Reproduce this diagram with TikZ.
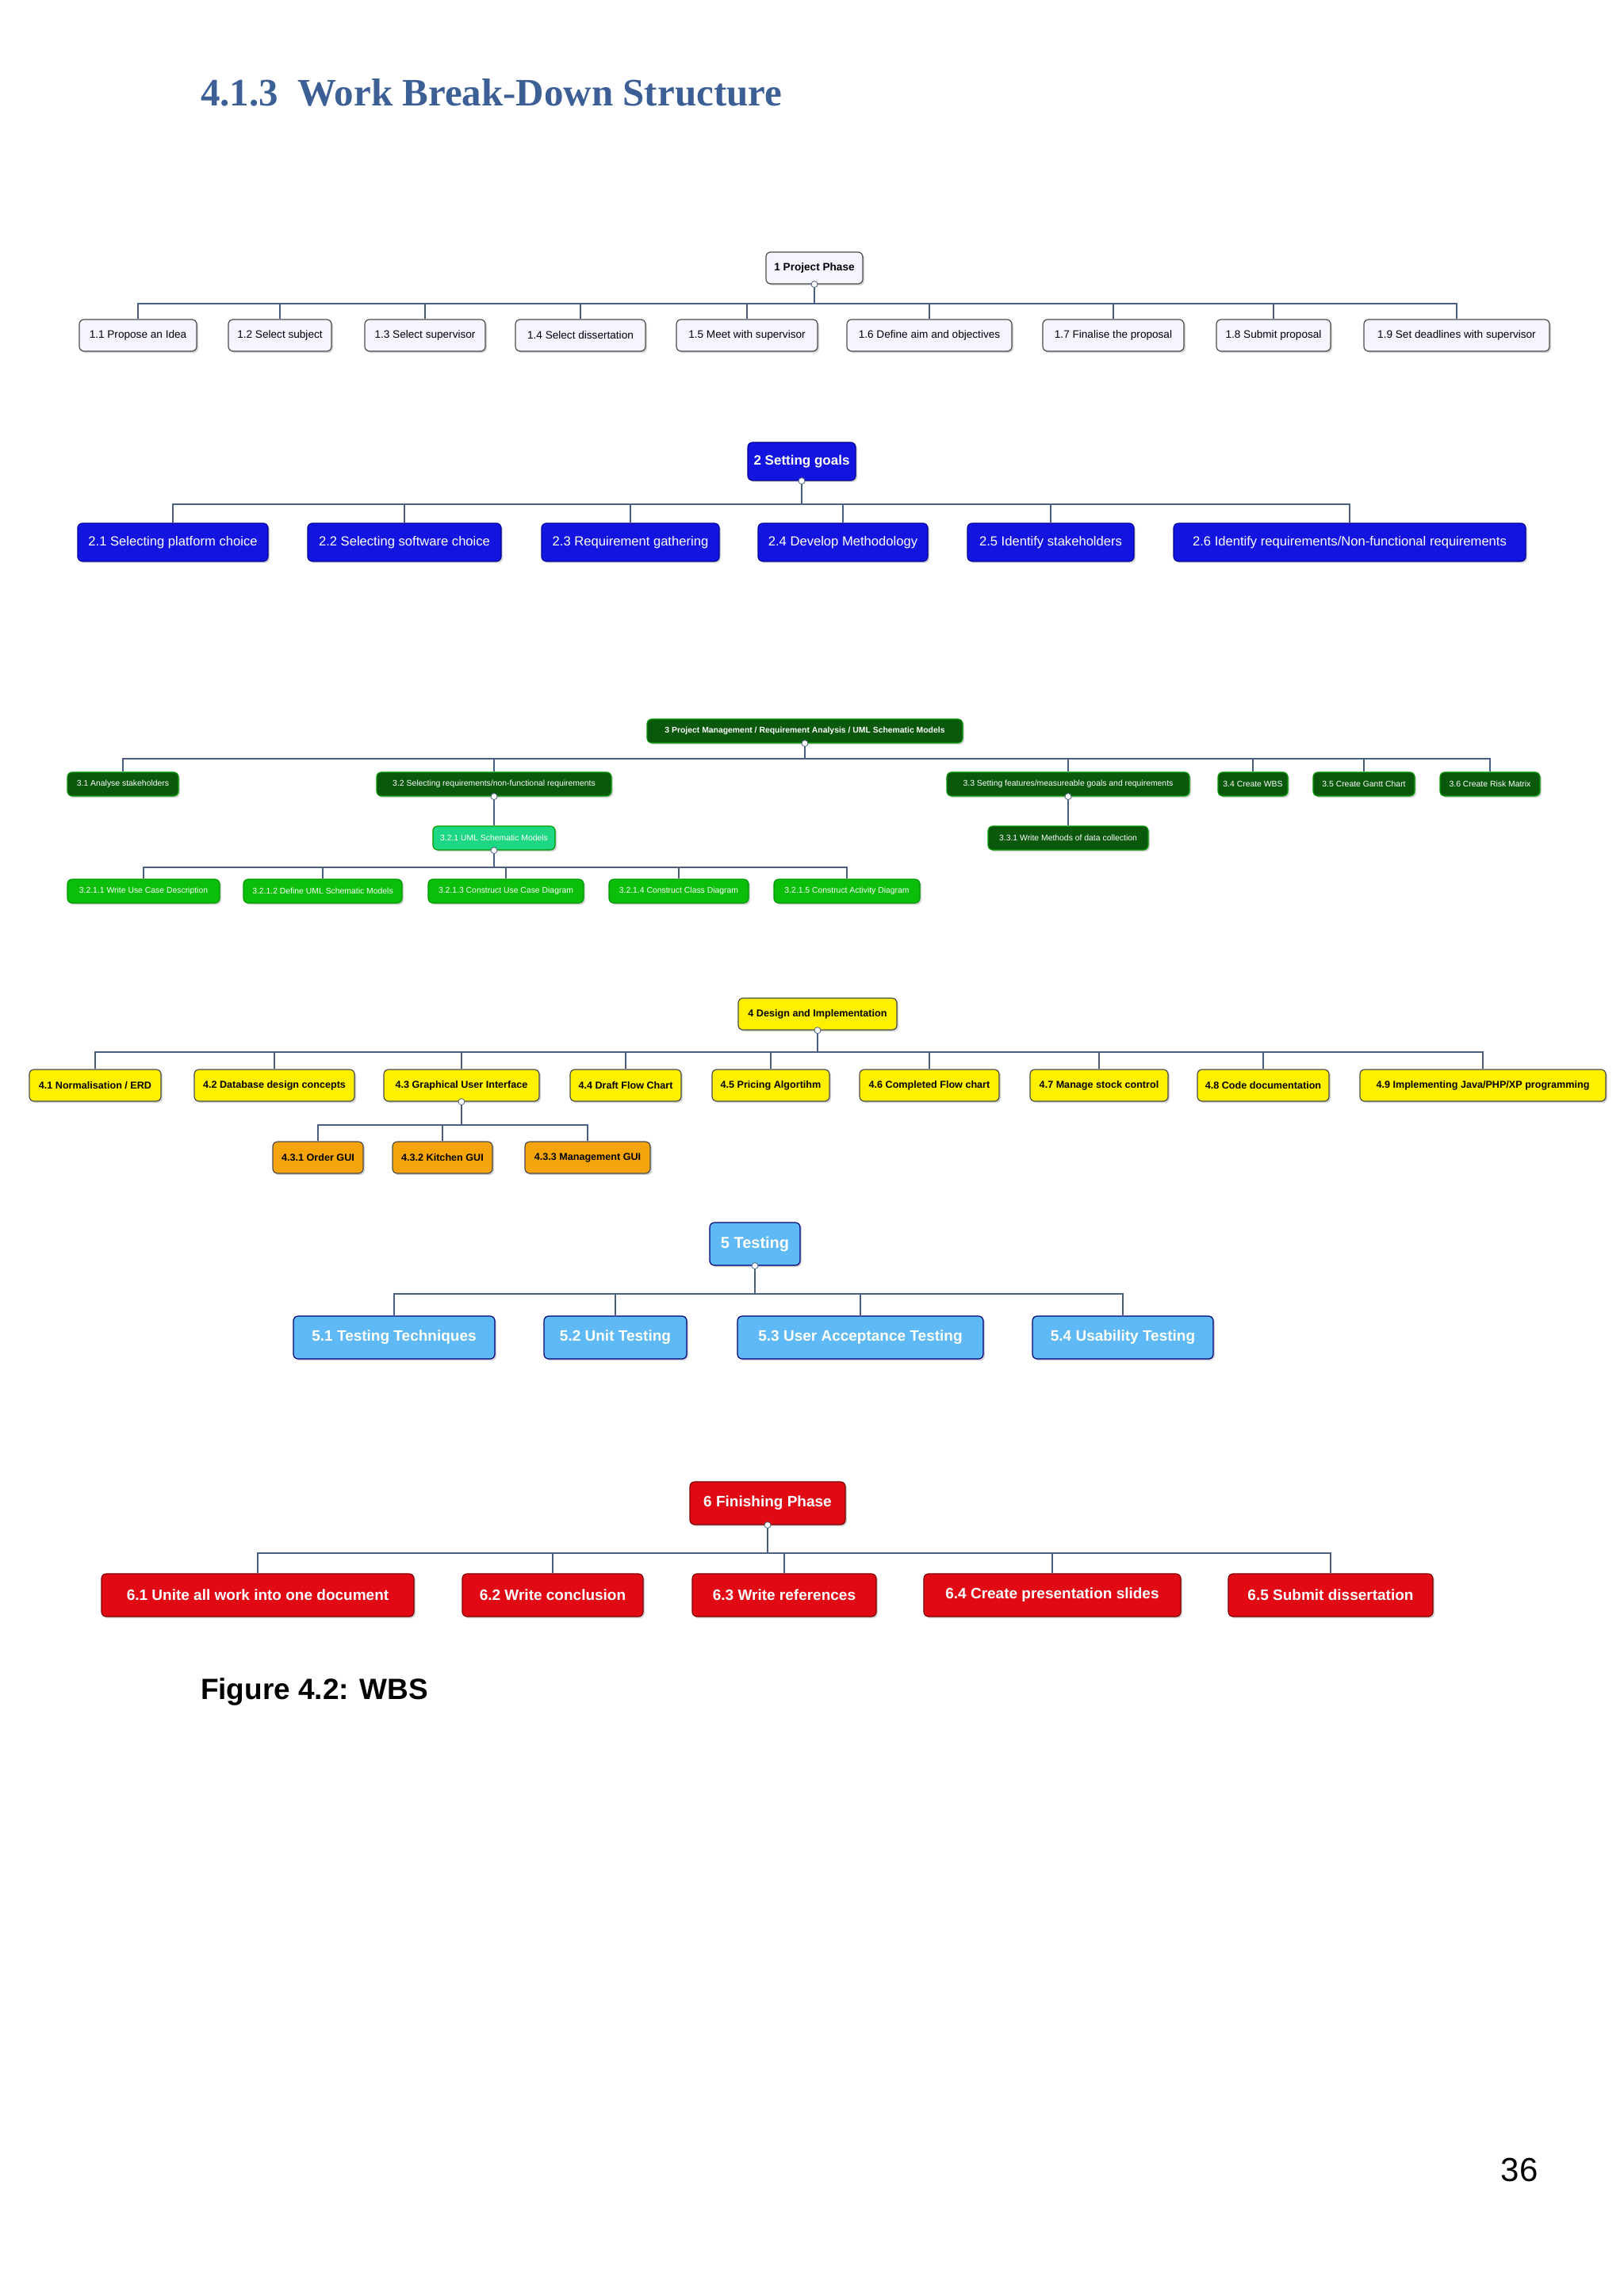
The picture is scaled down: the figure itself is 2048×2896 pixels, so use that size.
\documentclass[tikz,border=0pt]{standalone}
\usepackage{fontspec}
\setmainfont{Liberation Sans}
\newfontfamily\titlefont{Liberation Serif}
\usetikzlibrary{shadows}
\definecolor{titleblue}{HTML}{3C5F96}
\definecolor{linec}{HTML}{4A5F80}
\tikzset{
 bx/.style={rounded corners=3pt, draw=#1!60!black, line width=0.6pt, inner sep=1pt, drop shadow={opacity=0.35,shadow xshift=1pt,shadow yshift=-1pt}},
 s1/.style={bx=gray, fill=blue!4, text=black, font=\fontsize{6.8}{7}\selectfont, minimum height=20pt},
 s2/.style={bx=blue, fill={rgb,255:red,20;green,20;blue,225}, text=white, font=\fontsize{8.3}{9}\selectfont, minimum height=24pt},
 s3/.style={bx=green, fill={rgb,255:red,10;green,88;blue,12}, text=white, font=\fontsize{5.2}{5.5}\selectfont, minimum height=15pt},
 s3u/.style={s3, fill={rgb,255:red,10;green,190;blue,10}},
 s3t/.style={s3, fill={rgb,255:red,30;green,215;blue,130}},
 s4/.style={bx=yellow, draw=black!70, fill={rgb,255:red,255;green,240;blue,0}, text=black, font=\bfseries\fontsize{6.3}{7}\selectfont, minimum height=20pt},
 s4o/.style={s4, fill={rgb,255:red,245;green,165;blue,10}},
 s5/.style={bx=cyan, draw=blue!50!black, fill={rgb,255:red,95;green,185;blue,245}, text=white, font=\bfseries\fontsize{9.5}{10}\selectfont, minimum height=27pt},
 s6/.style={bx=red, draw=red!50!black, fill={rgb,255:red,225;green,10;blue,20}, text=white, font=\bfseries\fontsize{9.5}{10}\selectfont, minimum height=27pt},
 conn/.style={draw=linec, line width=0.8pt},
 knob/.style={circle, draw=linec, fill=white, inner sep=0pt, minimum size=4pt},
}
\newcommand{\tree}[2]{\foreach \c in {#2}{\draw[conn] (#1.south) |- (\c.north |- #1bar) -- (\c.north);}\node[knob] at (#1.south) {};}
\begin{document}
\begin{tikzpicture}[x=0.5pt,y=-0.5pt]
\useasboundingbox (0,0) rectangle (2048,2896);
\fill[white] (0,0) rectangle (2048,2896);
\node[anchor=west, text=titleblue, font=\titlefont\bfseries\fontsize{24.5}{28}\selectfont] (title) at (246,117) {4.1.3\ \ Work Break-Down Structure};
% section 1
\node[s1, minimum width=61pt, font=\bfseries\fontsize{6.8}{7}\selectfont] (r1) at (1027,338) {1 Project Phase};
\coordinate (r1bar) at (0,383);
\node[s1, minimum width=74pt] (a1) at (174,423) {1.1 Propose an Idea};
\node[s1, minimum width=65pt] (a2) at (353,423) {1.2 Select subject};
\node[s1, minimum width=76pt] (a3) at (536,423) {1.3 Select supervisor};
\node[s1, minimum width=82pt] (a4) at (732,423) {1.4 Select dissertation};
\node[s1, minimum width=89pt] (a5) at (942,423) {1.5 Meet with supervisor};
\node[s1, minimum width=104pt] (a6) at (1172,423) {1.6 Define aim and objectives};
\node[s1, minimum width=89pt] (a7) at (1404,423) {1.7 Finalise the proposal};
\node[s1, minimum width=72pt] (a8) at (1606,423) {1.8 Submit proposal};
\node[s1, minimum width=117pt] (a9) at (1837,423) {1.9 Set deadlines with supervisor};
\tree{r1}{a1,a2,a3,a4,a5,a6,a7,a8,a9}
% section 2
\node[s2, minimum width=68pt, minimum height=24pt, font=\bfseries\fontsize{8.5}{9}\selectfont] (r2) at (1011,582) {2 Setting goals};
\coordinate (r2bar) at (0,636);
\node[s2, minimum width=120pt] (b1) at (218,684) {2.1 Selecting platform choice};
\node[s2, minimum width=122pt] (b2) at (510,684) {2.2 Selecting software choice};
\node[s2, minimum width=112pt] (b3) at (795,684) {2.3 Requirement gathering};
\node[s2, minimum width=107pt] (b4) at (1063,684) {2.4 Develop Methodology};
\node[s2, minimum width=105pt] (b5) at (1325,684) {2.5 Identify stakeholders};
\node[s2, minimum width=222pt] (b6) at (1702,684) {2.6 Identify requirements/Non-functional requirements};
\tree{r2}{b1,b2,b3,b4,b5,b6}
% section 3
\node[s3, minimum width=199pt, font=\bfseries\fontsize{5.2}{5.5}\selectfont] (r3) at (1015,922) {3 Project Management / Requirement Analysis / UML Schematic Models};
\coordinate (r3bar) at (0,957);
\node[s3, minimum width=70pt] (c1) at (155,989) {3.1 Analyse stakeholders};
\node[s3, minimum width=148pt] (c2) at (623,989) {3.2 Selecting requirements/non-functional requirements};
\node[s3, minimum width=153pt] (c3) at (1347,989) {3.3 Setting features/measureable goals and requirements};
\node[s3, minimum width=44pt] (c4) at (1580,989) {3.4 Create WBS};
\node[s3, minimum width=64pt] (c5) at (1720,989) {3.5 Create Gantt Chart};
\node[s3, minimum width=63pt] (c6) at (1879,989) {3.6 Create Risk Matrix};
\tree{r3}{c1,c2,c3,c4,c5,c6}
\node[s3t, minimum width=77pt] (c21) at (623,1057) {3.2.1 UML Schematic Models};
\coordinate (c2bar) at (0,1030);
\tree{c2}{c21}
\node[s3, minimum width=101pt] (c31) at (1347,1057) {3.3.1 Write Methods of data collection};
\coordinate (c3bar) at (0,1030);
\tree{c3}{c31}
\coordinate (c21bar) at (0,1094);
\node[s3u, minimum width=96pt] (d1) at (181,1124) {3.2.1.1 Write Use Case Description};
\node[s3u, minimum width=100pt] (d2) at (407,1124) {3.2.1.2 Define UML Schematic Models};
\node[s3u, minimum width=98pt] (d3) at (638,1124) {3.2.1.3 Construct Use Case Diagram};
\node[s3u, minimum width=88pt] (d4) at (856,1124) {3.2.1.4 Construct Class Diagram};
\node[s3u, minimum width=92pt] (d5) at (1068,1124) {3.2.1.5 Construct Activity Diagram};
\tree{c21}{d1,d2,d3,d4,d5}
% section 4
\node[s4, minimum width=100pt] (r4) at (1031,1279) {4 Design and Implementation};
\coordinate (r4bar) at (0,1327);
\node[s4, minimum width=83pt] (e1) at (120,1369) {4.1 Normalisation / ERD};
\node[s4, minimum width=101pt] (e2) at (346,1369) {4.2 Database design concepts};
\node[s4, minimum width=98pt] (e3) at (582,1369) {4.3 Graphical User Interface};
\node[s4, minimum width=70pt] (e4) at (789,1369) {4.4 Draft Flow Chart};
\node[s4, minimum width=74pt] (e5) at (972,1369) {4.5 Pricing Algortihm};
\node[s4, minimum width=88pt] (e6) at (1172,1369) {4.6 Completed Flow chart};
\node[s4, minimum width=87pt] (e7) at (1386,1369) {4.7 Manage stock control};
\node[s4, minimum width=83pt] (e8) at (1593,1369) {4.8 Code documentation};
\node[s4, minimum width=155pt] (e9) at (1870,1369) {4.9 Implementing Java/PHP/XP programming};
\tree{r4}{e1,e2,e3,e4,e5,e6,e7,e8,e9}
\coordinate (e3bar) at (0,1419);
\node[s4o, minimum width=57pt] (f1) at (401,1460) {4.3.1 Order GUI};
\node[s4o, minimum width=63pt] (f2) at (558,1460) {4.3.2 Kitchen GUI};
\node[s4o, minimum width=79pt] (f3) at (741,1460) {4.3.3 Management GUI};
\tree{e3}{f1,f2,f3}
% section 5
\node[s5, minimum width=57pt, font=\bfseries\fontsize{10}{11}\selectfont] (r5) at (952,1569) {5 Testing};
\coordinate (r5bar) at (0,1632);
\node[s5, minimum width=127pt] (g1) at (497,1687) {5.1 Testing Techniques};
\node[s5, minimum width=90pt] (g2) at (776,1687) {5.2 Unit Testing};
\node[s5, minimum width=155pt] (g3) at (1085,1687) {5.3 User Acceptance Testing};
\node[s5, minimum width=114pt] (g4) at (1416,1687) {5.4 Usability Testing};
\tree{r5}{g1,g2,g3,g4}
% section 6
\node[s6, minimum width=98pt] (r6) at (968,1896) {6 Finishing Phase};
\coordinate (r6bar) at (0,1959);
\node[s6, minimum width=197pt] (h1) at (325,2012) {6.1 Unite all work into one document};
\node[s6, minimum width=114pt] (h2) at (697,2012) {6.2 Write conclusion};
\node[s6, minimum width=116pt] (h3) at (989,2012) {6.3 Write references};
\node[s6, minimum width=162pt] (h4) at (1327,2012) {6.4 Create presentation slides};
\node[s6, minimum width=129pt] (h5) at (1678,2012) {6.5 Submit dissertation};
\tree{r6}{h1,h2,h3,h4,h5}
\node[anchor=west, font=\bfseries\fontsize{18.5}{20}\selectfont] (cap) at (246,2134) {Figure 4.2: WBS};
\node[font=\fontsize{21}{24}\selectfont] (pg) at (1916,2737) {36};
\end{tikzpicture}
\end{document}
